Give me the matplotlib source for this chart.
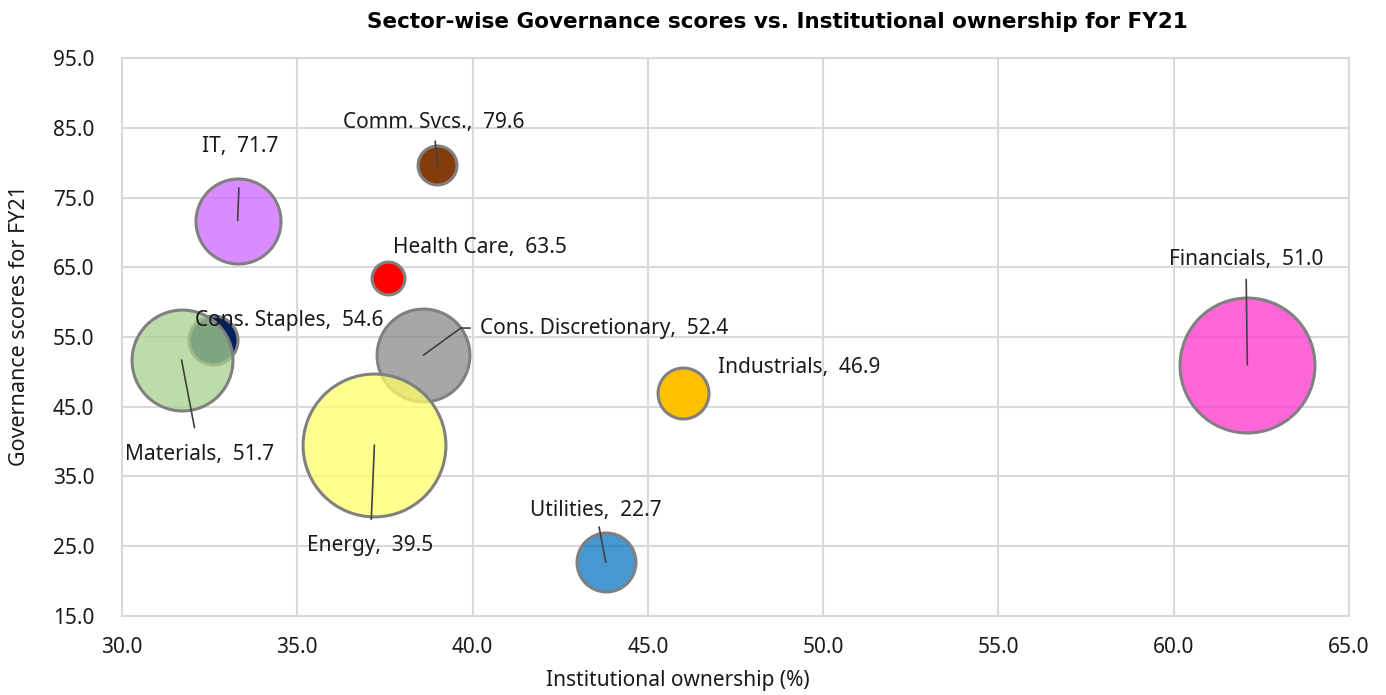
import matplotlib.pyplot as plt
from matplotlib.colors import to_rgba

# Sector data (FY21)
sectors = ["IT", "Comm. Svcs.", "Health Care", "Cons. Staples", "Materials",
           "Cons. Discretionary", "Energy", "Financials", "Industrials", "Utilities"]
ownership = [33.3, 39.0, 37.6, 32.6, 31.7, 38.6, 37.2, 62.1, 46.0, 43.8]
governance = [71.7, 79.6, 63.5, 54.6, 51.7, 52.4, 39.5, 51.0, 46.9, 22.7]
bubble_size = [18.1, 3.8, 2.7, 6.0, 25.5, 21.6, 51.1, 45.6, 6.5, 8.7]

colors = ["#CC66FF", "#843C0C", "#FF0000", "#002060", "#A9D18E",
          "#8A8A8A", "#FFFF6A", "#FF33CC", "#FFC000", "#0070C0"]
alphas = [0.75, 1.0, 1.0, 1.0, 0.75, 0.75, 0.75, 0.75, 1.0, 0.72]

# label offsets (points), leader line gap at the label end (None = no line)
label_offsets = [(2, 53), (-3, 31), (66, 22), (55, 14), (13, -68),
                 (130, 19.5), (-3, -72), (-1, 76), (84, 19), (-7, 37)]
leader_gap = [20, 4, None, None, 10, 0, 9, 5, None, 2]

plt.rcParams['font.family'] = ['Noto Sans', 'DejaVu Sans']

fig = plt.figure(figsize=(13.86, 6.95), dpi=100)
ax = fig.add_axes([0.088, 0.1137, 0.8853, 0.8028])

for i in range(len(sectors)):
    ax.scatter(ownership[i], governance[i], s=bubble_size[i] * 207,
               facecolor=to_rgba(colors[i], alphas[i]), edgecolor='#808080',
               linewidth=2.2, zorder=3 + i)

for i, name in enumerate(sectors):
    props = None
    if leader_gap[i] is not None:
        props = dict(arrowstyle='-', color='#404040', lw=1.2,
                     shrinkA=leader_gap[i], shrinkB=0)
        if name == "Cons. Discretionary":
            props.update(connectionstyle="angle,angleA=180,angleB=36,rad=0",
                         relpos=(0, 0.5), shrinkA=5)
    ax.annotate(f"{name},  {governance[i]:.1f}", (ownership[i], governance[i]),
                xytext=label_offsets[i], textcoords='offset points',
                ha='center', va='center', fontsize=15, color='#1a1a1a',
                arrowprops=props, zorder=20)

ax.set_xlim(30, 65)
ax.set_ylim(15, 95)
ax.set_xticks(range(30, 66, 5))
ax.set_yticks(range(15, 96, 10))
ax.set_xticklabels([f"{v:.1f}" for v in range(30, 66, 5)])
ax.set_yticklabels([f"{v:.1f}" for v in range(15, 96, 10)])
ax.tick_params(length=0, labelsize=15, colors='#1a1a1a')
ax.tick_params(axis='y', pad=20)
ax.tick_params(axis='x', pad=15)
ax.grid(True, color='#D9D9D9', lw=1.5, zorder=0)
ax.set_axisbelow(True)
for sp in ax.spines.values():
    sp.set_color('#D9D9D9')
    sp.set_linewidth(1.5)

ax.set_xlabel("Institutional ownership (%)", fontsize=15, color='#1a1a1a')
ax.xaxis.set_label_coords((678 - 122) / 1227, -(681 - 616) / 558)
ax.xaxis.label.set_va('center')
ax.set_ylabel("Governance scores for FY21", fontsize=15.5, color='#1a1a1a')
ax.yaxis.set_label_coords(-(122 - 20) / 1227, (616 - 326) / 558)
ax.yaxis.label.set_va('center')

fig.text(0.561, 0.968, "Sector-wise Governance scores vs. Institutional ownership for FY21",
         ha='center', va='center', fontsize=15.5, fontweight='bold',
         family=['Liberation Sans Narrow', 'DejaVu Sans'])

fig.savefig("out.png", dpi=100)
